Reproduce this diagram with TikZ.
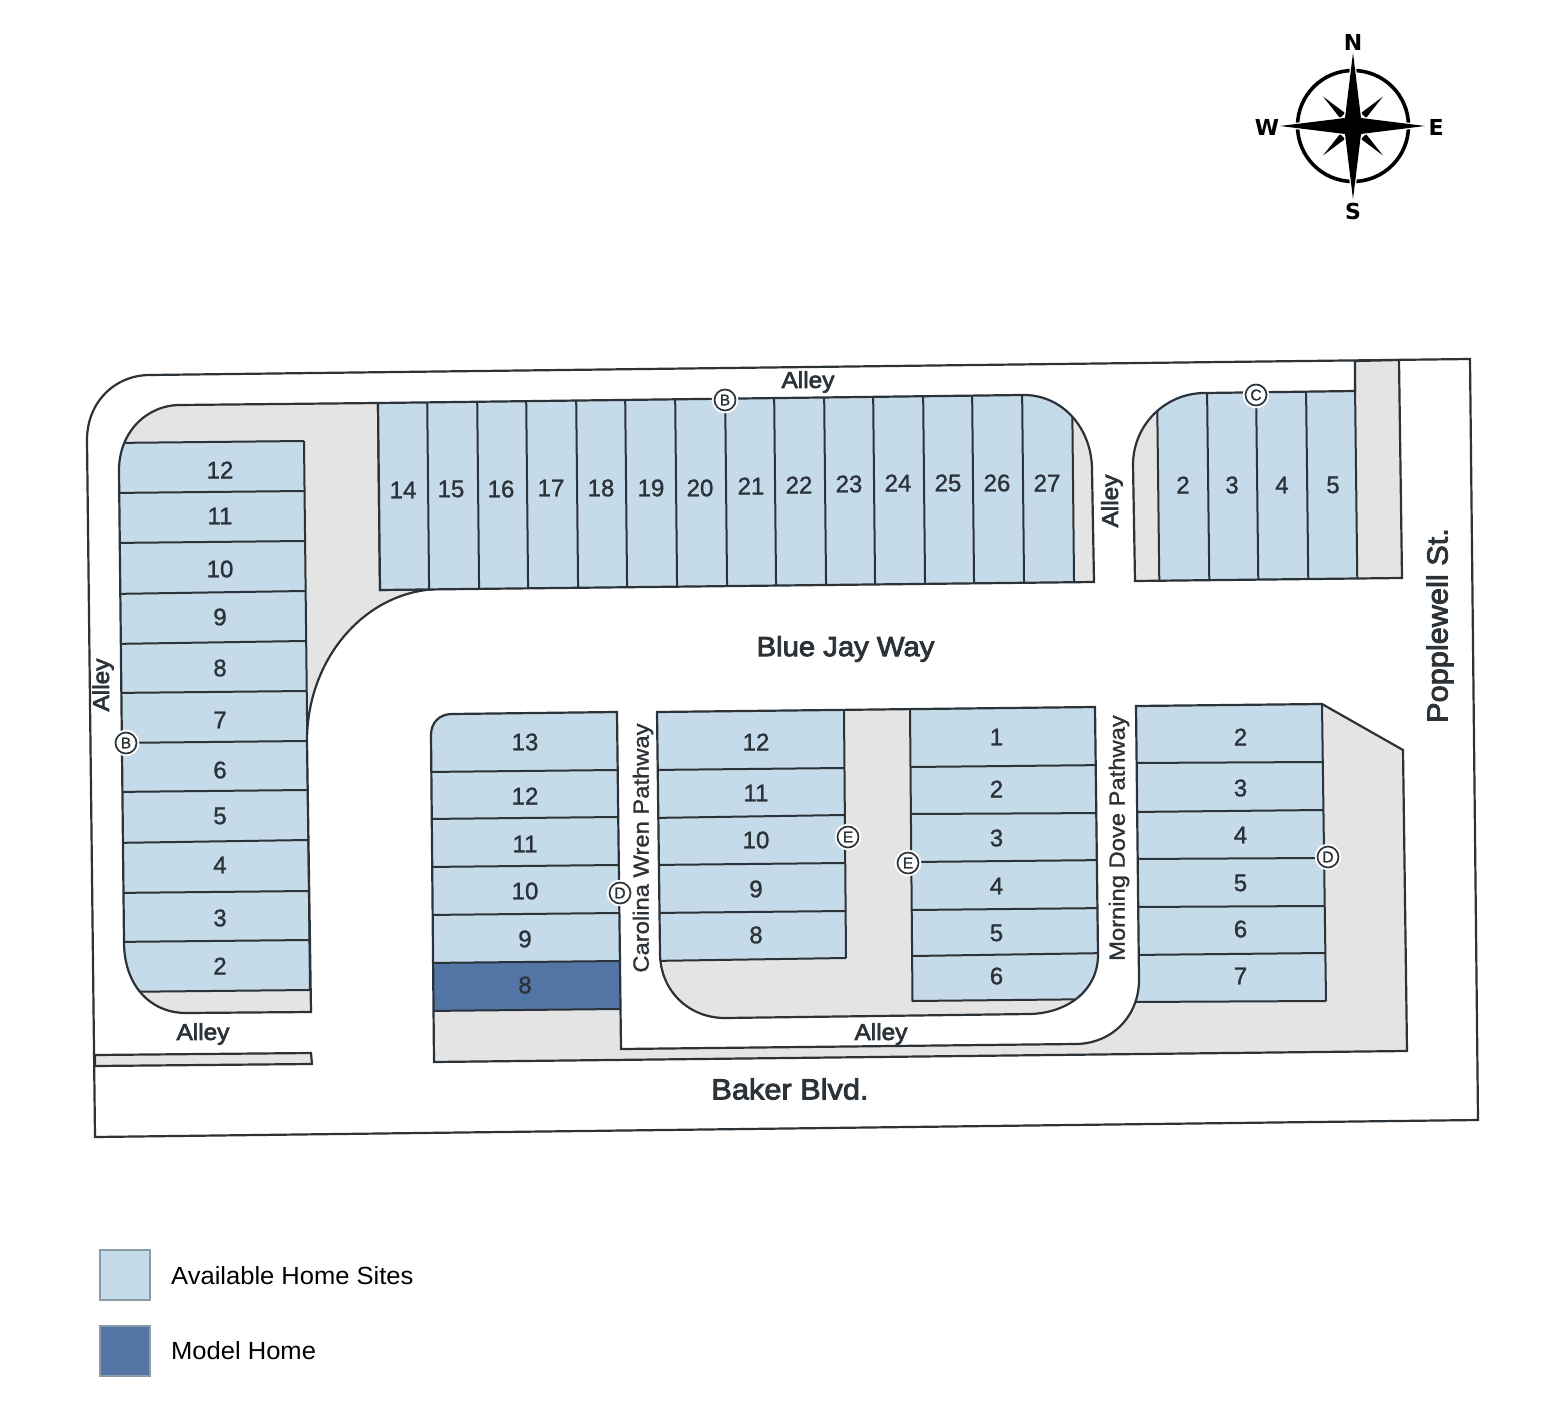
\documentclass[tikz,border=0pt]{standalone}
\usepackage{fontspec}
\setmainfont{Liberation Sans}
\newfontfamily\digitfont[FakeBold=1.2]{Liberation Sans}
\newfontfamily\labelfont[FakeBold=3,FakeStretch=1.06]{Liberation Sans}
\newfontfamily\roadfont[FakeBold=1.2,FakeStretch=1.08]{Liberation Sans}
\newfontfamily\legendfont[FakeStretch=1.03]{Liberation Sans}
\newfontfamily\compassfont{DejaVu Sans Bold}
\definecolor{lot}{HTML}{C6DBE9}
\definecolor{model}{HTML}{5275A5}
\definecolor{ground}{HTML}{E4E4E4}
\definecolor{ink}{HTML}{2B3238}
\definecolor{legendedge}{HTML}{8A9BA8}
\tikzset{
  edge/.style={draw=ink,line width=2.2pt,line join=miter},
  thin edge/.style={draw=ink,line width=2pt},
  num/.style={text=ink,inner sep=0pt,font=\digitfont\fontsize{24}{24}\selectfont},
  lab/.style={text=ink,inner sep=0pt,font=\labelfont\fontsize{23}{25}\selectfont},
  bigl/.style={text=ink,inner sep=0pt,font=\labelfont\fontsize{27.6}{28}\selectfont},
  bigm/.style={text=ink,inner sep=0pt,font=\labelfont\fontsize{29}{30}\selectfont},
  road/.style={text=ink,inner sep=0pt,font=\roadfont\fontsize{22}{23}\selectfont,rotate=90},
  marker/.style={circle,draw=ink,line width=1.7pt,fill=white,minimum size=21pt,inner sep=0pt,text=ink,
    font=\digitfont\fontsize{15.5}{16}\selectfont,preaction={draw=white,line width=5.5pt}},
  compassl/.style={inner sep=0pt,text=black,font=\compassfont\fontsize{22}{22}\selectfont},
  legendtxt/.style={inner sep=0pt,anchor=west,text=black,font=\legendfont\fontsize{24.8}{25}\selectfont},
  swatch/.style={draw=legendedge,line width=2pt},
  frameP/.style={insert path={(150,375) -- (1470,359) -- (1478,1120) -- (95,1137) -- (87,440) .. controls (87,402) and (115,375) .. (150,375) -- cycle}},
  blockA/.style={insert path={(180,405) -- (378,403) -- (380,590) -- (440,589) .. controls (366,590) and (307,658) .. (307,741) -- (311,1012) -- (186,1013) .. controls (150,1013) and (124,985) .. (124,942) -- (119,470) .. controls (119,432) and (147,405) .. (180,405) -- cycle}},
  blockB/.style={insert path={(378,403) -- (1022,395) .. controls (1062,394) and (1092,428) .. (1092,470) -- (1094,582) -- (380,590) -- cycle}},
  blockC/.style={insert path={(1205,393) -- (1355,391) -- (1355,361) -- (1399,360) -- (1402,578) -- (1135,581) -- (1133,465) .. controls (1133,425) and (1165,393) .. (1205,393) -- cycle}},
  blockD/.style={insert path={(452,714) -- (617,712) -- (621,1049) -- (1075,1044) .. controls (1112,1044) and (1139,1016) .. (1139,980) -- (1136,706) -- (1322,704) -- (1403,750) -- (1407,1051) -- (434,1062) -- (431,735) .. controls (431,722) and (440,714) .. (452,714) -- cycle}},
  blockE/.style={insert path={(657,712) -- (1095,707) -- (1098,955) .. controls (1098,990) and (1068,1013) .. (1030,1014) -- (725,1018) .. controls (688,1018) and (660,990) .. (660,953) -- cycle}}
}
\begin{document}
\begin{tikzpicture}[x=1pt,y=-1pt]
\useasboundingbox (0,0) rectangle (1545,1415);
% site frame
\path[frameP,fill=white,edge];
% Alley strip
\path[fill=ground,edge] (95,1055) -- (311,1053) -- (312,1064) -- (95,1066) -- cycle;
% left block
\path[blockA,fill=ground];
\begin{scope}
\path[clip,blockA];
\fill[lot] (100,443) -- (304,441) -- (310,990) -- (100,993) -- cycle;
\foreach \yl/\xr/\yr in {443/304/441,493/304/491,543/304/541,594/305/591,644/305/641,693/306/691,743/307/741,792/307/790,843/308/840,893/309/891,942/309/940,992/310/990}
  \draw[thin edge] (110,\yl) -- (\xr,\yr);
\draw[thin edge] (304,441) -- (310,990);
\end{scope}
\path[blockA,edge];
% north block
\path[blockB,fill=ground];
\begin{scope}
\path[clip,blockB];
\fill[lot] (378,380) -- (1072,380) -- (1074,600) -- (380,600) -- cycle;
\foreach \xa in {427,477,526,576,625,675,725,774,824,873,923,972,1022,1072}
  \draw[thin edge] (\xa,380) -- (\xa+2.2,600);
\end{scope}
\path[blockB,edge];
% north-east block
\path[blockC,fill=ground];
\begin{scope}
\path[clip,blockC];
\fill[lot] (1157,385) -- (1355,385) -- (1358,590) -- (1159,590) -- cycle;
\foreach \xa in {1157,1207,1256,1306,1355}
  \draw[thin edge] (\xa,385) -- (\xa+2.4,590);
\end{scope}
\path[blockC,edge];
% south block with Carolina Wren lots and east lots
\path[blockD,fill=ground];
\begin{scope}
\path[clip,blockD];
\fill[lot] (425,714) -- (617,712) -- (620,961) -- (425,963) -- cycle;
\fill[model] (425,963) -- (620,961) -- (620,1009) -- (425,1011) -- cycle;
\fill[lot] (1136,706) -- (1322,704) -- (1326,1001) -- (1130,1003) -- cycle;
\foreach \yl/\xr/\yr in {772/617/770,819/618/817,867/618/865,915/619/913,963/620/961,1011/620/1009}
  \draw[thin edge] (425,\yl) -- (\xr,\yr);
\foreach \yl/\xr/\yr in {763/1322/762,812/1323/810,859/1323/858,907/1324/906,955/1325/953,1002/1326/1001}
  \draw[thin edge] (1130,\yl) -- (\xr,\yr);
\draw[thin edge] (1322,704) -- (1326,1001);
\end{scope}
\path[blockD,edge];
% central block
\path[blockE,fill=ground];
\begin{scope}
\path[clip,blockE];
\fill[lot] (650,712) -- (844,710) -- (846,958) -- (650,961) -- cycle;
\fill[lot] (910,709) -- (1110,707) -- (1110,999) -- (912.5,1001) -- cycle;
\foreach \yl/\xr/\yr in {770/844/768,818/845/815,865/845/863,913/846/911,961/846/958}
  \draw[thin edge] (650,\yl) -- (\xr,\yr);
\foreach \xs/\yl/\yr in {911/767/765,911/814/813,911.5/862/860,912/910/908,912/956/953,912.5/1001/999}
  \draw[thin edge] (\xs,\yl) -- (1110,\yr);
\draw[thin edge] (844,710) -- (846,958);
\draw[thin edge] (910,709) -- (912.5,1002);
\end{scope}
\path[blockE,edge];
% lot numbers
\foreach \n/\y in {12/470,11/516,10/569,9/617,8/668,7/720,6/770,5/816,4/865,3/918,2/966}
  \node[num] (w\n) at (220,\y) {\n};
\foreach \n/\x/\y in {14/403/490,15/451/489,16/501/489,17/551/488,18/601/488,19/651/488,20/700/488,21/751/486,22/799/485,23/849/484,24/898/483,25/948/483,26/997/483,27/1047/483}
  \node[num] (n\n) at (\x,\y) {\n};
\foreach \n/\x in {2/1183,3/1232,4/1282,5/1333}
  \node[num] (c\n) at (\x,485) {\n};
\foreach \n/\y in {13/742,12/796,11/844,10/891,9/939,8/985}
  \node[num] (d\n) at (525,\y) {\n};
\foreach \n/\y in {12/742,11/793,10/840,9/889,8/935}
  \node[num] (f\n) at (756,\y) {\n};
\foreach \n/\y in {1/737,2/789,3/838,4/886,5/933,6/976}
  \node[num] (e\n) at (996.5,\y) {\n};
\foreach \n/\y in {2/737,3/788,4/835,5/883,6/929,7/976}
  \node[num] (r\n) at (1240.5,\y) {\n};
% street labels
\node[lab] (alley1) at (808,382) {Alley};
\node[lab] (alley2) at (203,1034) {Alley};
\node[lab] (alley3) at (881,1034) {Alley};
\node[lab,rotate=90] (alley4) at (103,685) {Alley};
\node[lab,rotate=90] (alley5) at (1112,501) {Alley};
\node[bigl] (blue) at (845.5,649) {Blue Jay Way};
\node[bigm] (baker) at (790,1089) {Baker Blvd.};
\node[bigm,rotate=90] (popple) at (1440,625.5) {Popplewell St.};
\node[road] (carolina) at (643,848) {Carolina Wren Pathway};
\node[road] (morning) at (1119,838) {Morning Dove Pathway};
% markers
\node[marker] (m1) at (725,400) {B};
\node[marker] (m2) at (126,743) {B};
\node[marker] (m3) at (1256,395) {C};
\node[marker] (m4) at (620,893) {D};
\node[marker] (m5) at (848,837) {E};
\node[marker] (m6) at (908,863) {E};
\node[marker] (m7) at (1328,857) {D};
% compass
\draw[black,line width=3.6pt] (1353,126) circle (55.5);
\foreach \sx/\sy in {1/1,1/-1,-1/1,-1/-1}
  \fill[black] (1353+30*\sx,126+29.5*\sy) -- (1353+8*\sx,126+13*\sy) -- (1353+13*\sx,126+8*\sy) -- cycle;
\path[draw=white,line width=2.5pt,line join=miter] (1353,53) -- (1361,118) -- (1425,126) -- (1361,134) -- (1353,199) -- (1345,134) -- (1280,126) -- (1345,118) -- cycle;
\fill[black] (1353,53) -- (1361,118) -- (1425,126) -- (1361,134) -- (1353,199) -- (1345,134) -- (1280,126) -- (1345,118) -- cycle;
\node[compassl] (cN) at (1353,42) {N};
\node[compassl] (cS) at (1353,211) {S};
\node[compassl] (cE) at (1436,127) {E};
\node[compassl] (cW) at (1267,127) {W};
% legend
\path[swatch,fill=lot] (100,1250) rectangle (150,1300);
\path[swatch,fill=model] (100,1326) rectangle (150,1376);
\node[legendtxt] (l1) at (171,1276) {Available Home Sites};
\node[legendtxt] (l2) at (171,1351) {Model Home};
\end{tikzpicture}
\end{document}
